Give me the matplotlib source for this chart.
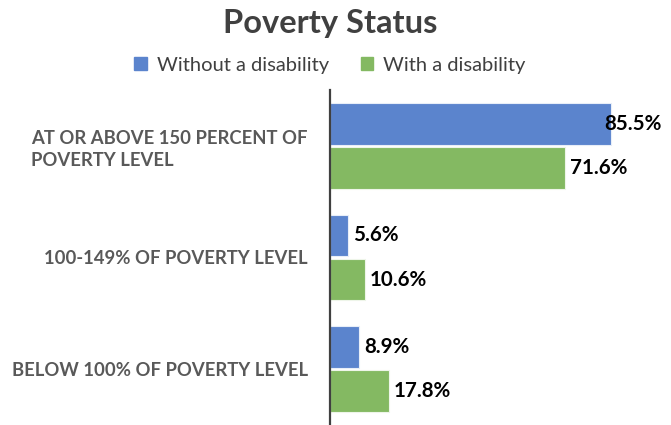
import matplotlib
matplotlib.use("Agg")
import matplotlib.pyplot as plt
from matplotlib.patches import Patch

plt.rcParams['font.family'] = ['Lato', 'DejaVu Sans']

# --- data ---
categories = ["AT OR ABOVE 150 PERCENT OF\nPOVERTY LEVEL",
              "100-149% OF POVERTY LEVEL",
              "BELOW 100% OF POVERTY LEVEL"]
without_disability = [85.5, 5.6, 8.9]
with_disability = [71.6, 10.6, 17.8]
series_names = ["Without a disability", "With a disability"]

blue = "#5B84CD"
green = "#84B962"
dark = "#404040"
label_grey = "#595959"

fig = plt.figure(figsize=(6.71, 4.25), dpi=100)
ax = fig.add_axes([330 / 671, 0.0, (662 - 330) / 671, 335 / 425])

h = 0.375
ypos = list(range(len(categories)))
b1 = ax.barh([y - h / 2 - 0.01 for y in ypos], without_disability, height=h,
             color=blue, edgecolor="#E8EEF8", linewidth=0.8)
b2 = ax.barh([y + h / 2 + 0.01 for y in ypos], with_disability, height=h,
             color=green, edgecolor="#EEF5E9", linewidth=0.8)

ax.set_xlim(0, 101)
ax.set_ylim(len(categories) - 0.5, -0.5)
ax.set_xticks([])
ax.set_yticks(ypos)
ax.set_yticklabels(categories, fontsize=13.3, fontweight="bold", color=label_grey,
                   multialignment="left", linespacing=1.35)
ax.tick_params(axis="y", length=0, pad=16)
for s in ["top", "right", "bottom"]:
    ax.spines[s].set_visible(False)
ax.spines["left"].set_color(dark)
ax.spines["left"].set_linewidth(1.6)

# value labels, pulled back inside if they would run past the plot area
labels = []
for bars, vals in ((b1, without_disability), (b2, with_disability)):
    for bar, v in zip(bars, vals):
        t = ax.annotate(f"{v}%", (v, bar.get_y() + bar.get_height() / 2),
                        xytext=(3.6, 0), textcoords="offset points",
                        ha="left", va="center", fontsize=14.8,
                        fontweight="bold", color="black")
        labels.append(t)

fig.canvas.draw()
r = fig.canvas.get_renderer()
right_px = ax.get_window_extent(r).x1
for t in labels:
    bb = t.get_window_extent(r)
    if bb.x1 > right_px:
        t.set_position((-(bb.x1 - right_px) * 72 / fig.dpi + 3.6, 0))

fig.text(330 / 671, 1 - 24 / 425, "Poverty Status", ha="center", va="center",
         fontsize=23.5, fontweight="bold", color=dark)
handles = [Patch(color=blue), Patch(color=green)]
fig.legend(handles, series_names, loc="center", bbox_to_anchor=(330 / 671, 1 - 65 / 425),
           ncol=2, frameon=False, fontsize=14.5, labelcolor=dark,
           handlelength=0.6, handleheight=0.6, handletextpad=0.5, columnspacing=1.6)

fig.savefig("out.png", dpi=100, facecolor="white")
